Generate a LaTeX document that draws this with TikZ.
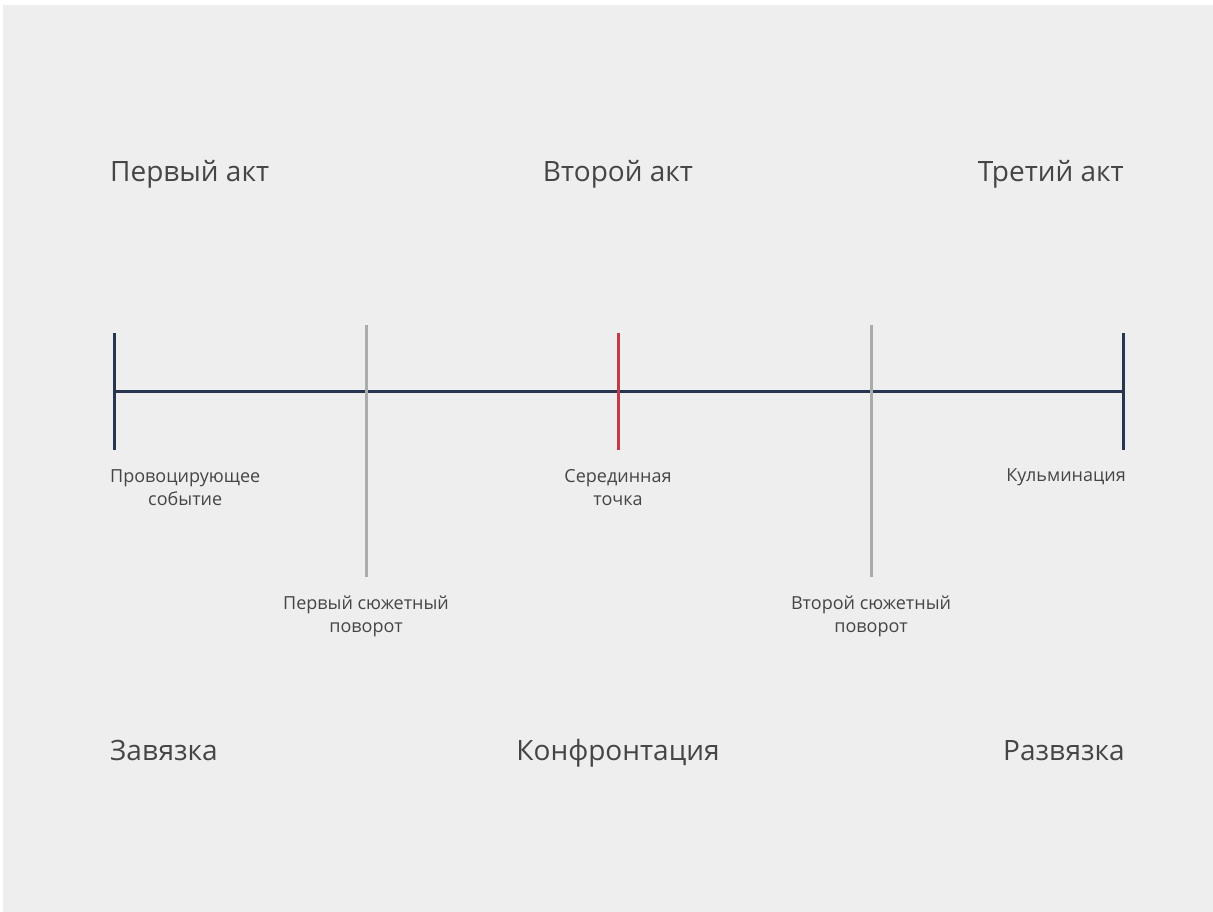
\documentclass[tikz,border=0pt]{standalone}
\usepackage{fontspec}
\setmainfont{Open Sans}
\usetikzlibrary{positioning}

\definecolor{paper}{HTML}{EEEEEE}
\definecolor{ink}{HTML}{283550}
\definecolor{turngray}{HTML}{ABABAB}
\definecolor{midred}{HTML}{C23B4B}
\definecolor{words}{HTML}{454545}

\tikzset{
  act/.style={inner sep=0pt, text=words, font=\fontsize{28}{34}\selectfont},
  note/.style={inner sep=0pt, text=words, align=center, font=\fontsize{18}{23}\selectfont},
  axis/.style={ink, line width=3pt},
  plotturn/.style={turngray, line width=3pt},
}

\begin{document}
\begin{tikzpicture}[x=1pt, y=1pt]
    \useasboundingbox (0,0) rectangle (1213,912);
    \fill[white] (0,0) rectangle (1213,912);
    \fill[paper] (3,0) rectangle (1213,907);

    % Points on the story line
    \coordinate (start)  at (114,520);
    \coordinate (turnA)  at (366,520);
    \coordinate (mid)    at (618,520);
    \coordinate (turnB)  at (871,520);
    \coordinate (climax) at (1123,520);

    % Story line
    \draw[axis] (start) -- (climax);

    % Plot turns
    \draw[plotturn] ([yshift=67]turnA) -- ([yshift=-185]turnA);
    \draw[plotturn] ([yshift=67]turnB) -- ([yshift=-185]turnB);

    % End ticks and midpoint
    \draw[axis] ([yshift=59]start) -- ([yshift=-58]start);
    \draw[axis] ([yshift=59]climax) -- ([yshift=-58]climax);
    \draw[midred, line width=3pt] ([yshift=59]mid) -- ([yshift=-58]mid);

    % Acts
    \node[act, anchor=base west] (actA) at (110,730) {Первый акт};
    \node[act, anchor=base] (actB) at (618,730) {Второй акт};
    \node[act, anchor=base east] (actC) at (1124,730) {Третий акт};

    % Point labels
    \node[note, anchor=west] (incite) at (110,424) {Провоцирующее\\событие};
    \node[note] (midlbl) at (618,424) {Серединная\\точка};
    \node[note, anchor=base east] (climaxlbl) at (1126,430) {Кульминация};
    \node[note] (turnAlbl) at (366,296) {Первый сюжетный\\поворот};
    \node[note] (turnBlbl) at (871,296) {Второй сюжетный\\поворот};

    % Parts
    \node[act, anchor=base west] (setup) at (110,151) {Завязка};
    \node[act, anchor=base] (conflict) at (618,151) {Конфронтация};
    \node[act, anchor=base east] (ending) at (1125,151) {Развязка};
\end{tikzpicture}
\end{document}
